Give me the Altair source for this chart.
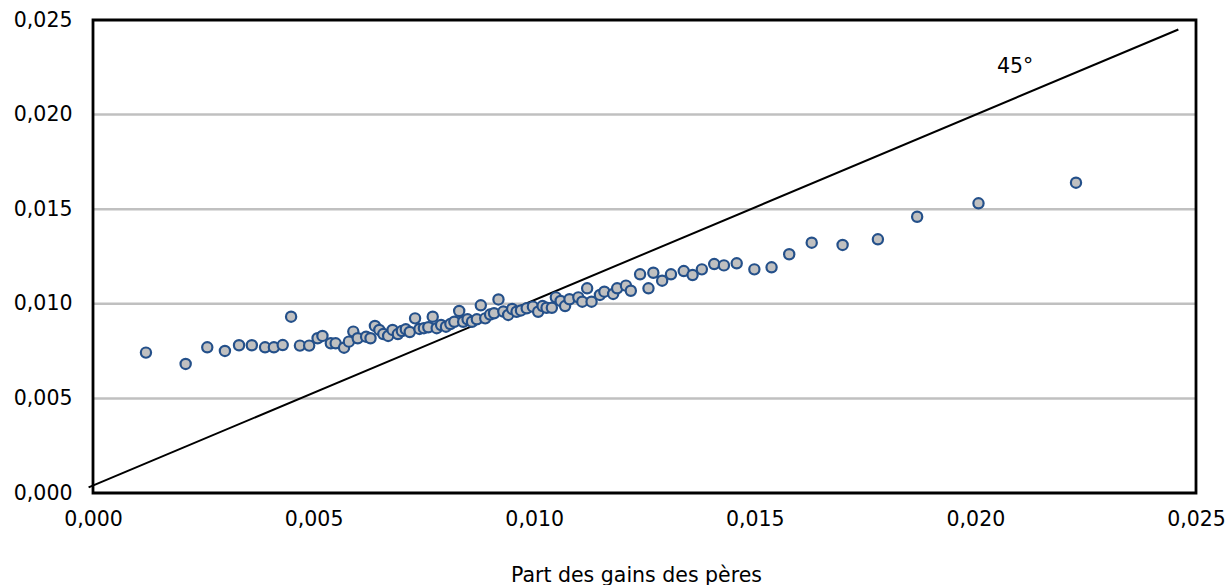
import altair as alt
import pandas as pd

# Scatter: share of fathers' earnings (x) vs children's (y)
x_vals = [0.00120, 0.00210, 0.00259, 0.00299, 0.00331, 0.00360, 0.00390, 0.00410, 0.00430, 0.00449,
          0.00469, 0.00490, 0.00509, 0.00520, 0.00539, 0.00550, 0.00569, 0.00580, 0.00590, 0.00600,
          0.00619, 0.00629, 0.00639, 0.00649, 0.00658, 0.00669, 0.00679, 0.00691, 0.00700, 0.00709,
          0.00718, 0.00730, 0.00740, 0.00750, 0.00760, 0.00770, 0.00779, 0.00789, 0.00800, 0.00810,
          0.00819, 0.00830, 0.00839, 0.00849, 0.00859, 0.00870, 0.00879, 0.00889, 0.00900, 0.00909,
          0.00919, 0.00930, 0.00941, 0.00950, 0.00960, 0.00970, 0.00983, 0.00997, 0.01009, 0.01019,
          0.01028, 0.01040, 0.01049, 0.01060, 0.01070, 0.01080, 0.01100, 0.01109, 0.01120, 0.01130,
          0.01149, 0.01159, 0.01179, 0.01188, 0.01208, 0.01219, 0.01240, 0.01259, 0.01270, 0.01290,
          0.01310, 0.01339, 0.01359, 0.01380, 0.01408, 0.01430, 0.01459, 0.01499, 0.01538, 0.01578,
          0.01629, 0.01699, 0.01779, 0.01868, 0.02007, 0.02228]
y_vals = [0.00742, 0.00682, 0.00770, 0.00751, 0.00781, 0.00781, 0.00770, 0.00770, 0.00782, 0.00932,
          0.00779, 0.00779, 0.00818, 0.00830, 0.00791, 0.00791, 0.00768, 0.00800, 0.00853, 0.00818,
          0.00826, 0.00818, 0.00883, 0.00862, 0.00840, 0.00830, 0.00862, 0.00840, 0.00856, 0.00865,
          0.00851, 0.00923, 0.00867, 0.00871, 0.00876, 0.00932, 0.00871, 0.00888, 0.00879, 0.00893,
          0.00905, 0.00962, 0.00905, 0.00918, 0.00905, 0.00918, 0.00992, 0.00923, 0.00943, 0.00950,
          0.01023, 0.00959, 0.00941, 0.00973, 0.00958, 0.00965, 0.00976, 0.00985, 0.00958, 0.00988,
          0.00979, 0.00979, 0.01034, 0.01015, 0.00988, 0.01024, 0.01034, 0.01011, 0.01082, 0.01011,
          0.01047, 0.01064, 0.01052, 0.01082, 0.01096, 0.01069, 0.01156, 0.01082, 0.01164, 0.01122,
          0.01156, 0.01173, 0.01152, 0.01182, 0.01210, 0.01203, 0.01214, 0.01182, 0.01193, 0.01262,
          0.01323, 0.01311, 0.01341, 0.01460, 0.01531, 0.01640]

# 45-degree reference line
line_x = [-0.0001, 0.0246]
line_y = [0.0003, 0.0245]

label_text = ["45°"]
label_x = [0.0209]
label_y = [0.02253]

ticks = [0.0, 0.005, 0.010, 0.015, 0.020, 0.025]
grid_vals = [0.005, 0.010, 0.015, 0.020]
x_title = "Part des gains des pères"

FONT = "DejaVu Sans"
W, H = 1103, 473

pts = pd.DataFrame({"x": x_vals, "y": y_vals})
ln = pd.DataFrame({"x": line_x, "y": line_y})
lab = pd.DataFrame({"x": label_x, "y": label_y, "t": label_text})
grid = pd.DataFrame({"y": grid_vals})
frame_df = pd.DataFrame({"k": [0]})

label_expr = "replace(format(datum.value, '.3f'), '.', ',')"

xscale = alt.Scale(domain=[0, 0.025], nice=False, zero=False)
yscale = alt.Scale(domain=[0, 0.025], nice=False, zero=False)

xaxis = alt.Axis(values=ticks, labelExpr=label_expr, grid=False, ticks=False, tickSize=0,
                 domain=False, labelFont=FONT, labelFontSize=20.5, labelColor="#000000",
                 labelPadding=16, title=x_title, titleFont=FONT, titleFontSize=20.5,
                 titleFontWeight="normal", titleColor="#000000", titleY=82, titleX=543,
                 titleBaseline="middle", labelFlush=False)
yaxis = alt.Axis(values=ticks, labelExpr=label_expr, grid=False, ticks=False, tickSize=0,
                 domain=False, labelFont=FONT, labelFontSize=20.5, labelColor="#000000",
                 labelPadding=21, title=None, labelFlush=False)

gridlines = alt.Chart(grid).mark_rule(color="#c0c0c0", strokeWidth=2.5).encode(
    y=alt.Y("y:Q", scale=yscale, axis=yaxis))

line = alt.Chart(ln).mark_line(color="#000000", strokeWidth=2, clip=False).encode(
    x=alt.X("x:Q", scale=xscale, axis=xaxis), y=alt.Y("y:Q", scale=yscale))

points = alt.Chart(pts).mark_circle(size=105, color="#c0c0c0", fill="#c0c0c0",
                                    fillOpacity=1, stroke="#24508a", strokeWidth=2.2,
                                    opacity=1).encode(
    x=alt.X("x:Q", scale=xscale), y=alt.Y("y:Q", scale=yscale))

text = alt.Chart(lab).mark_text(font=FONT, fontSize=20.5, color="#000000", align="center",
                                baseline="middle").encode(
    x=alt.X("x:Q", scale=xscale), y=alt.Y("y:Q", scale=yscale), text="t:N")

frame = alt.Chart(frame_df).mark_rect(fillOpacity=0, fill="#ffffff", stroke="#000000",
                                      strokeWidth=2.8).encode(
    x=alt.value(0), x2=alt.value(W), y=alt.value(0), y2=alt.value(H))

chart = alt.layer(gridlines, line, points, text, frame).properties(
    width=W, height=H,
    autosize=alt.AutoSizeParams(type="none"),
    padding={"left": 93, "top": 20, "right": 32, "bottom": 92},
).configure_view(stroke=None).configure(background="#ffffff")

chart.save("out.html", embed_options={"renderer": "svg", "actions": False})
